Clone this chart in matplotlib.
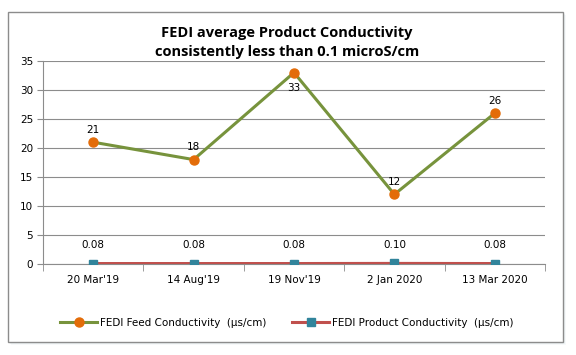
import numpy as np
import matplotlib.pyplot as plt
from matplotlib.patches import Rectangle

dates = ["20 Mar'19", "14 Aug'19", "19 Nov'19", "2 Jan 2020", "13 Mar 2020"]
feed = [21, 18, 33, 12, 26]
product = [0.08, 0.08, 0.08, 0.10, 0.08]
feed_label_pos = ["above", "above", "below", "above", "above"]

W, H = 576, 355
fig = plt.figure(figsize=(W / 100, H / 100), dpi=100)
fig.patch.set_facecolor("white")

# chart frame with a soft shadow
for i, a in enumerate([0.08, 0.12, 0.18]):
    off = 3 - i
    fig.patches.append(Rectangle(((8 + off) / W, 1 - (342 + off) / H), 555 / W, 330 / H,
                                 transform=fig.transFigure, facecolor="#9db8c8", alpha=a,
                                 edgecolor="none", zorder=0))
fig.patches.append(Rectangle((8 / W, 1 - 342 / H), 555 / W, 330 / H, transform=fig.transFigure,
                             facecolor="white", edgecolor="#8c8c8c", linewidth=1.0, zorder=1))

ax = fig.add_axes([43 / W, 1 - 264 / H, (545 - 43) / W, (264 - 61) / H])
ax.set_zorder(2)
ax.patch.set_alpha(0)

x = np.arange(len(dates))
ax.plot(x, feed, color="#77933C", linewidth=2.2, marker="o", markersize=6.5,
        markerfacecolor="#E36C09", markeredgecolor="#E36C09", zorder=3,
        label="FEDI Feed Conductivity  (\u00b5s/cm)")
ax.plot(x, product, color="#C0504D", linewidth=2.2, marker="s", markersize=6,
        markerfacecolor="#31849B", markeredgecolor="#31849B", zorder=3,
        label="FEDI Product Conductivity  (\u00b5s/cm)")

for xi, v, p in zip(x, feed, feed_label_pos):
    dy = 9 if p == "above" else -11
    ax.annotate(str(v), (xi, v), xytext=(0, dy), textcoords="offset points",
                ha="center", va="center", fontsize=7.5, family="DejaVu Sans")
for xi, v in zip(x, product):
    ax.annotate(f"{v:.2f}", (xi, v), xytext=(0, 13), textcoords="offset points",
                ha="center", va="center", fontsize=7.5, family="DejaVu Sans")

ax.set_xlim(-0.5, len(dates) - 0.5)
ax.set_ylim(0, 35)
ax.set_yticks(range(0, 36, 5))
ax.set_xticks(x)
ax.set_xticklabels(dates)
ax.set_xticks(np.arange(-0.5, len(dates), 1), minor=True)
ax.tick_params(axis="x", which="major", length=0, pad=8, labelsize=7.5)
ax.tick_params(axis="x", which="minor", length=5, color="#8c8c8c", direction="out")
ax.tick_params(axis="y", length=4, color="#8c8c8c", labelsize=7.5, pad=3)
ax.grid(axis="y", color="#8c8c8c", linewidth=0.8)
ax.set_axisbelow(True)
for s in ["top", "right"]:
    ax.spines[s].set_visible(False)
ax.spines["left"].set_color("#8c8c8c")
ax.spines["bottom"].set_color("#8c8c8c")

fig.text(287 / W, 1 - 33 / H, "FEDI average Product Conductivity", ha="center", va="center",
         fontsize=10.5, fontweight="bold", family="Open Sans")
fig.text(287 / W, 1 - 52 / H, "consistently less than 0.1 microS/cm", ha="center", va="center",
         fontsize=10.5, fontweight="bold", family="Open Sans")

fig.legend(loc="center", bbox_to_anchor=(287 / W, 1 - 323 / H), ncol=2, frameon=False,
           fontsize=7.5, handlelength=3.5, columnspacing=2.5, handletextpad=0.3)

fig.savefig("out.png", dpi=100, facecolor="white")
